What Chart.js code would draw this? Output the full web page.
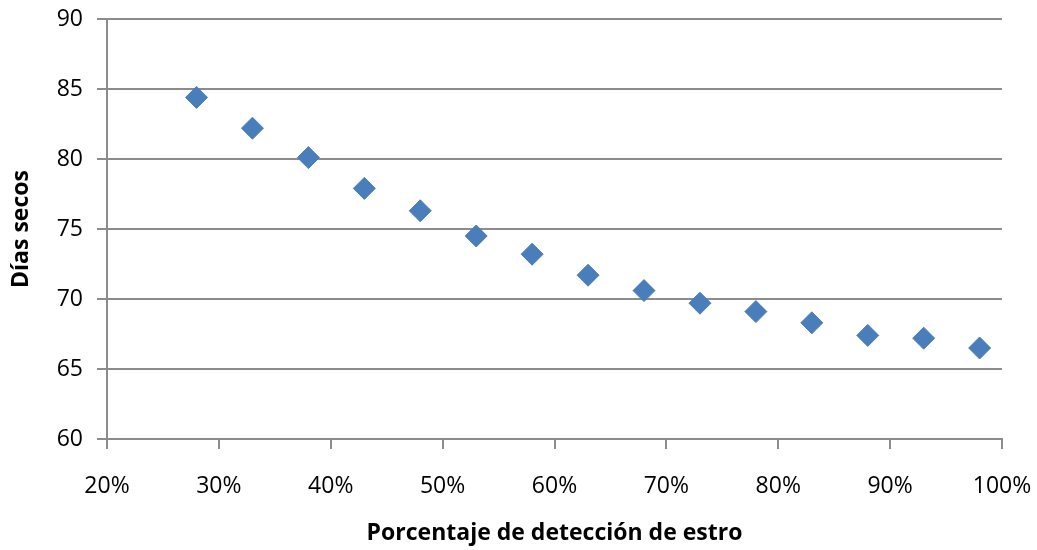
<!DOCTYPE html>
<html>
<head>
<meta charset="utf-8">
<script src="https://cdn.jsdelivr.net/npm/chart.js@4.4.1/dist/chart.umd.min.js"></script>
<style>
  html, body { margin: 0; padding: 0; background: #ffffff; }
  #wrap { width: 1037px; height: 550px; position: relative; }
</style>
</head>
<body>
<div id="wrap"><canvas id="c" width="1037" height="550"></canvas></div>
<script>
// Estrus detection rate (%) and resulting dry days
const deteccion = [28, 33, 38, 43, 48, 53, 58, 63, 68, 73, 78, 83, 88, 93, 98];
const diasSecos = [84.4, 82.2, 80.1, 77.9, 76.3, 74.5, 73.2, 71.7, 70.6, 69.7, 69.1, 68.3, 67.4, 67.2, 66.5];

const xTickValues = [20, 30, 40, 50, 60, 70, 80, 90, 100];
const yTickValues = [60, 65, 70, 75, 80, 85, 90];

const tituloX = 'Porcentaje de detección de estro';
const tituloY = 'Días secos';

const puntos = deteccion.map((x, i) => ({ x: x, y: diasSecos[i] }));

const gris = '#8c8c8c';
const azul = '#4a7ebb';
const fuenteTicks = { family: '"Open Sans", sans-serif', size: 23 };
const fuenteTitulo = { family: '"Open Sans", sans-serif', size: 23, weight: 'bold' };

// keep the plot area fixed: edge labels may overflow into the outer margin
function sinRelleno(s) {
  s.paddingLeft = 0; s.paddingRight = 0; s.paddingTop = 0; s.paddingBottom = 0;
}

new Chart(document.getElementById('c'), {
  type: 'scatter',
  data: {
    datasets: [{
      data: puntos,
      pointStyle: 'rectRot',
      pointRadius: 11,
      pointHoverRadius: 11,
      backgroundColor: azul,
      borderColor: azul,
      borderWidth: 1
    }]
  },
  options: {
    responsive: false,
    animation: false,
    events: [],
    layout: { padding: { left: 0, right: 35, top: 19, bottom: 0 } },
    plugins: { legend: { display: false }, tooltip: { enabled: false } },
    scales: {
      x: {
        type: 'linear',
        min: 20,
        max: 100,
        afterBuildTicks: s => { s.ticks = xTickValues.map(v => ({ value: v })); },
        afterFit: s => { s.height = 111; sinRelleno(s); },
        grid: { drawOnChartArea: false, drawTicks: true, tickLength: 10, color: gris, lineWidth: 2 },
        border: { display: true, color: gris, width: 2 },
        ticks: { color: '#000', font: fuenteTicks, padding: 24, maxRotation: 0, callback: v => v + '%' },
        title: { display: true, text: tituloX, color: '#000', font: fuenteTitulo, padding: { top: 0, bottom: 3 } }
      },
      y: {
        min: 60,
        max: 90,
        afterBuildTicks: s => { s.ticks = yTickValues.map(v => ({ value: v })); },
        afterFit: s => { s.width = 107; sinRelleno(s); },
        grid: { drawTicks: true, tickLength: 10, color: gris, lineWidth: 2 },
        border: { display: true, color: gris, width: 2 },
        ticks: { color: '#000', font: fuenteTicks, padding: 14 },
        title: { display: true, text: tituloY, color: '#000', font: fuenteTitulo, padding: { top: 8, bottom: 0 } }
      }
    }
  }
});
</script>
</body>
</html>
